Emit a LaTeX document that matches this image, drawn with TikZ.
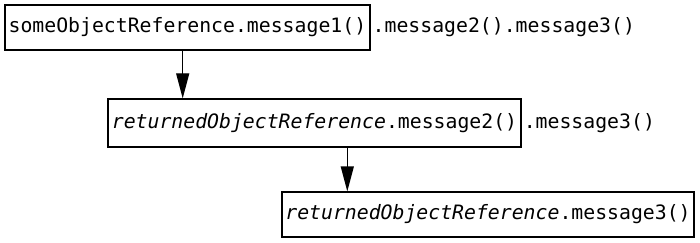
\documentclass[tikz,border=0pt]{standalone}
\usepackage{fontspec}
\setmonofont{DejaVu Sans Mono}
\usetikzlibrary{arrows.meta}
\begin{document}
\begin{tikzpicture}[x=1pt,y=-1pt,
  every node/.style={font=\fontsize{19.8}{24}\selectfont\ttfamily},
  box/.style={draw,line width=1.2pt,rectangle,inner sep=0pt,align=center},
  tail/.style={inner xsep=2pt,inner ysep=0pt,anchor=base west},
  arr/.style={line width=1.2pt,-{Triangle[length=25pt,width=13pt]}}]
\useasboundingbox (0,0) rectangle (700,243);
\node[box,minimum width=365pt,minimum height=45pt] (b1) at (187.4,27.5) {someObjectReference.message1()};
\node[tail] (t1) at (b1.base east) {.message2().message3()};
\node[box,minimum width=413pt,minimum height=48pt] (b2) at (314.5,123) {\textit{returnedObjectReference}.message2()};
\node[tail] (t2) at (b2.base east) {.message3()};
\node[box,minimum width=412pt,minimum height=45pt] (b3) at (488,214.5) {\textit{returnedObjectReference}.message3()};
\draw[arr] ([xshift=-4.7pt]b1.south) -- ([xshift=-4.7pt]b1.south |- b2.north);
\draw[arr] ([xshift=32.8pt]b2.south) -- ([xshift=32.8pt]b2.south |- b3.north);
\end{tikzpicture}
\end{document}
